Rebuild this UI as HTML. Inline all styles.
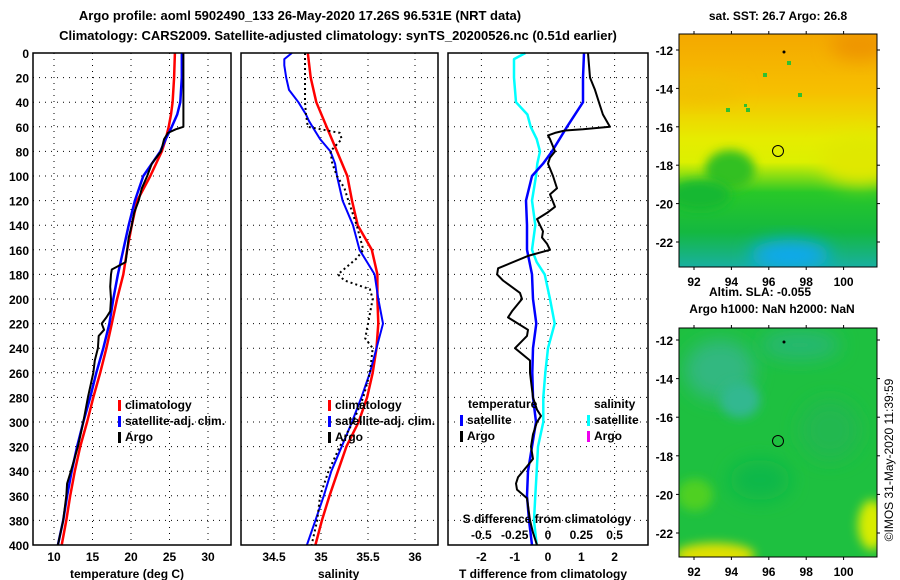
<!DOCTYPE html>
<html><head><meta charset="utf-8"><style>
html,body{margin:0;padding:0;background:#fff;}
svg{display:block;font-family:"Liberation Sans",sans-serif;font-weight:bold;}
</style></head><body>
<svg id="s" width="900" height="580" viewBox="0 0 900 580">
<defs>
<filter id="bl" x="-50%" y="-50%" width="200%" height="200%"><feGaussianBlur stdDeviation="9"/></filter>
<filter id="bl2" x="-50%" y="-50%" width="200%" height="200%"><feGaussianBlur stdDeviation="5"/></filter>
<clipPath id="c1"><rect x="679" y="34" width="198" height="233"/></clipPath>
<clipPath id="c2"><rect x="679" y="328" width="198" height="229"/></clipPath>
<linearGradient id="sst" x1="0" y1="0" x2="0" y2="1">
<stop offset="0" stop-color="#f4a800"/><stop offset="0.25" stop-color="#f6c000"/><stop offset="0.45" stop-color="#e6ec00"/><stop offset="0.55" stop-color="#dcf000"/><stop offset="0.68" stop-color="#28c828"/><stop offset="0.85" stop-color="#14b840"/><stop offset="1" stop-color="#18b0a0"/>
</linearGradient>
</defs>
<text x="300" y="20" text-anchor="middle" font-size="13">Argo profile: aoml 5902490_133 26-May-2020 17.26S 96.531E (NRT data)</text>
<text x="338" y="40" text-anchor="middle" font-size="13">Climatology: CARS2009. Satellite-adjusted climatology: synTS_20200526.nc (0.51d earlier)</text>
<g id="grid"></g>
<g id="lines"></g>
<g id="axes"></g>

<g font-size="12">
<rect x="118" y="400" width="3" height="11" fill="#f00"/><text x="125" y="409">climatology</text>
<rect x="118" y="416" width="3" height="11" fill="#00f"/><text x="125" y="425">satellite-adj. clim.</text>
<rect x="118" y="432" width="3" height="11" fill="#000"/><text x="125" y="441">Argo</text>
</g>
<g font-size="12">
<rect x="328" y="400" width="3" height="11" fill="#f00"/><text x="335" y="409">climatology</text>
<rect x="328" y="416" width="3" height="11" fill="#00f"/><text x="335" y="425">satellite-adj. clim.</text>
<rect x="328" y="432" width="3" height="11" fill="#000"/><text x="335" y="441">Argo</text>
</g>
<g font-size="12">
<text x="468" y="408">temperature</text>
<rect x="460" y="415" width="3" height="11" fill="#00f"/><text x="467" y="424">satellite</text>
<rect x="460" y="431" width="3" height="11" fill="#000"/><text x="467" y="440">Argo</text>
<text x="594" y="408">salinity</text>
<rect x="587" y="415" width="3" height="11" fill="#0ff"/><text x="594" y="424">satellite</text>
<rect x="587" y="431" width="3" height="11" fill="#e0e"/><text x="594" y="440">Argo</text>
</g>
<text x="547" y="523" text-anchor="middle" font-size="12">S difference from climatology</text>
<text x="70" y="578" font-size="12">temperature (deg C)</text>
<text x="318" y="578" font-size="12">salinity</text>
<text x="459" y="578" font-size="12">T difference from climatology</text>

<text x="778" y="20" text-anchor="middle" font-size="12">sat. SST: 26.7 Argo: 26.8</text>
<g clip-path="url(#c1)">
<rect x="679" y="34" width="198" height="233" fill="url(#sst)"/>
<ellipse cx="860" cy="45" rx="30" ry="15" fill="#ee9400" filter="url(#bl)"/>
<ellipse cx="700" cy="90" rx="40" ry="12" fill="#f0c000" filter="url(#bl)"/>
<ellipse cx="860" cy="160" rx="40" ry="25" fill="#e0e800" filter="url(#bl)"/>
<ellipse cx="790" cy="255" rx="40" ry="15" fill="#10a8f0" filter="url(#bl)"/>
<ellipse cx="730" cy="170" rx="25" ry="20" fill="#30c020" filter="url(#bl2)"/>
<ellipse cx="700" cy="195" rx="30" ry="15" fill="#18b830" filter="url(#bl2)"/>
<rect x="763" y="73" width="4" height="4" fill="#30c030"/><rect x="787" y="61" width="4" height="4" fill="#30c030"/>
<rect x="798" y="93" width="4" height="4" fill="#30c030"/><rect x="746" y="108" width="4" height="4" fill="#30c030"/>
<rect x="726" y="108" width="4" height="4" fill="#30c030"/><rect x="744" y="104" width="3" height="3" fill="#30c030"/>
<circle cx="784" cy="52" r="1.5" fill="#000"/>
<circle cx="778" cy="151" r="5.5" fill="none" stroke="#000" stroke-width="1"/>
</g>
<rect x="679" y="34" width="198" height="233" fill="none" stroke="#000"/>
<text x="760" y="296" text-anchor="middle" font-size="12">Altim. SLA: -0.055</text>
<text x="772" y="313" text-anchor="middle" font-size="12">Argo h1000: NaN h2000: NaN</text>

<g clip-path="url(#c2)">
<rect x="679" y="328" width="198" height="229" fill="#1ec040"/>
<ellipse cx="720" cy="370" rx="35" ry="30" fill="#30b880" filter="url(#bl)"/>
<ellipse cx="740" cy="400" rx="20" ry="18" fill="#30b890" filter="url(#bl2)"/>
<ellipse cx="800" cy="345" rx="40" ry="15" fill="#28b870" filter="url(#bl)"/>
<ellipse cx="830" cy="430" rx="30" ry="30" fill="#20b850" filter="url(#bl)"/>
<ellipse cx="695" cy="495" rx="18" ry="16" fill="#50d020" filter="url(#bl2)"/>
<ellipse cx="715" cy="555" rx="40" ry="12" fill="#e0e000" filter="url(#bl2)"/>
<ellipse cx="872" cy="525" rx="14" ry="25" fill="#d8ec00" filter="url(#bl2)"/>
<ellipse cx="760" cy="480" rx="30" ry="20" fill="#10b848" filter="url(#bl)"/>
<circle cx="784" cy="342" r="1.5" fill="#000"/>
<circle cx="778" cy="441" r="5.5" fill="none" stroke="#000" stroke-width="1"/>
</g>
<rect x="679" y="328" width="198" height="229" fill="none" stroke="#000"/>
<text transform="translate(893,460) rotate(-90)" text-anchor="middle" font-size="12" font-weight="normal">©IMOS 31-May-2020 11:39:59</text>
</svg>
<script>
const tClimDepth=[0,20,40,50,60,70,80,100,120,140,160,180,200,220,240,260,280,300,320,340,360,380,400];
const tClim=[25.7,25.6,25.4,25.2,24.9,24.5,24.0,22.5,20.8,20.1,19.5,19.0,18.2,17.5,16.8,16.0,15.1,14.3,13.4,12.7,12.1,11.6,11.0];
const tSatDepth=[0,20,40,50,60,70,80,90,100,120,140,160,180,200,220,240,260,280,300,320,340,360,380,400];
const tSat=[26.6,26.6,26.4,26.0,25.3,24.5,23.8,22.7,21.6,20.5,19.7,19.0,18.3,17.7,17.2,16.4,15.5,14.7,13.8,13.0,12.3,11.7,11.2,10.5];
const tArgoDepth=[0,60,62,65,70,80,90,100,110,120,130,140,150,160,170,176,180,190,200,210,215,220,225,230,240,250,260,280,300,320,340,350,360,380,400];
const tArgo=[26.8,26.8,25.8,24.8,24.3,23.9,22.7,22.1,21.4,21.0,20.4,20.1,19.7,19.5,19.3,17.5,17.4,17.3,17.4,17.3,16.8,16.2,16.5,15.8,15.7,15.3,15.1,14.4,13.8,13.1,12.2,11.7,11.6,11.2,10.5];
const sClimDepth=[0,20,40,60,80,100,120,140,160,180,200,220,240,260,280,300,320,340,360,380,400];
const sClim=[34.86,34.89,34.95,35.06,35.17,35.28,35.33,35.39,35.54,35.60,35.60,35.61,35.59,35.55,35.49,35.40,35.27,35.18,35.09,35.01,34.94];
const sSatDepth=[0,5,10,20,30,40,50,55,60,70,80,90,100,120,140,160,170,180,200,220,240,260,280,300,320,340,360,380,400];
const sSat=[34.69,34.61,34.61,34.63,34.66,34.76,34.84,34.87,34.91,34.99,35.10,35.15,35.17,35.23,35.34,35.41,35.49,35.57,35.61,35.66,35.59,35.52,35.43,35.33,35.22,35.11,35.03,34.94,34.85];
const sArgoDepth=[0,20,40,50,60,65,70,80,90,100,110,120,140,160,167,180,185,192,200,220,232,240,260,280,300,320,340,360,380,400];
const sArgo=[34.83,34.83,34.83,34.84,34.86,35.2,35.22,35.10,35.12,35.17,35.25,35.29,35.38,35.45,35.38,35.18,35.25,35.52,35.55,35.50,35.47,35.55,35.52,35.45,35.34,35.20,35.08,34.99,34.96,34.90];
const dTSatDepth=[0,20,40,60,80,90,100,120,140,160,180,200,220,240,260,280,300,320,340,360,380,400];
const dTSat=[1.08,1.05,1.05,0.57,0.12,-0.15,-0.48,-0.66,-0.63,-0.63,-0.48,-0.45,-0.35,-0.45,-0.47,-0.45,-0.36,-0.48,-0.6,-0.63,-0.57,-0.48];
const dSSatDepth=[0,5,20,40,50,60,70,80,90,100,120,140,160,170,180,200,220,240,260,280,300,320,340,360,380,400];
const dSSat=[-0.17,-0.255,-0.255,-0.24,-0.155,-0.13,-0.085,-0.06,-0.08,-0.09,-0.12,-0.095,-0.12,-0.085,-0.025,0.015,0.05,0.0,-0.02,-0.035,-0.035,-0.075,-0.085,-0.095,-0.105,-0.085];
const dTArgoDepth=[0,20,30,40,50,60,62,63,65,67,70,80,85,90,100,110,115,125,130,135,145,150,155,160,165,175,180,185,195,200,210,215,225,230,240,250,260,280,290,295,300,310,320,330,335,345,350,355,362,380,390,400];
const dTArgo=[1.2,1.26,1.41,1.53,1.65,1.86,1.05,0.51,0.21,0.0,0.06,0.21,0.06,0.0,0.15,0.27,0.06,0.21,-0.03,-0.33,-0.15,-0.18,-0.03,0.06,-0.6,-1.5,-1.53,-1.35,-0.84,-0.78,-1.08,-1.2,-0.6,-0.63,-0.99,-0.54,-0.54,-0.45,-0.33,-0.21,-0.33,-0.45,-0.51,-0.45,-0.6,-0.9,-0.96,-0.93,-0.63,-0.54,-0.45,-0.33];
const depthTicks=[0,20,40,60,80,100,120,140,160,180,200,220,240,260,280,300,320,340,360,380,400];
const tTicks=[10,15,20,25,30];
const sTicks=[34.5,35,35.5,36];
const dTTicks=[-2,-1,0,1,2];
const dSTicks=[-0.5,-0.25,0,0.25,0.5];
const latTicks=[-12,-14,-16,-18,-20,-22];
const lonTicks=[92,94,96,98,100];

const NS='http://www.w3.org/2000/svg';
const yD=d=>53+d*1.23;
const xT=t=>54+(t-10)*7.7;
const xS=s=>321+(s-35)*94;
const xDT=t=>548+t*33.3;
const xDS=s=>548+s*133.2;
const xLon=l=>694+(l-92)*18.7;
const yLat1=l=>50+(-12-l)*19.2;
const yLat2=l=>340+(-12-l)*19.3;
const panels=[[33,231],[241,438],[448,648]];
function mk(tag,attrs,parent){const e=document.createElementNS(NS,tag);for(const k in attrs)e.setAttribute(k,attrs[k]);parent.appendChild(e);return e;}
const G=document.getElementById('grid'),L=document.getElementById('lines'),A=document.getElementById('axes');

panels.forEach(([x0,x1])=>{depthTicks.forEach(d=>{if(d>0&&d<400){const ln=mk('line',{x1:x0,x2:x1,y1:yD(d),y2:yD(d),stroke:'#000','stroke-width':1,'stroke-dasharray':'1,5'},G);

}});});
function vgrid(vals,fx){vals.forEach(v=>{const ln=mk('line',{x1:fx(v),x2:fx(v),y1:yD(0),y2:yD(400),stroke:'#000','stroke-width':1,'stroke-dasharray':'1,5'},G);

});}
vgrid(tTicks,xT);vgrid(sTicks,xS);vgrid([-0.5,0,0.5],xDS);

panels.forEach(([x0,x1])=>{const r=mk('rect',{x:x0,y:yD(0),width:x1-x0,height:yD(400)-yD(0),fill:'none',stroke:'#000','stroke-width':1.5},A);

});
depthTicks.forEach(d=>{const t=mk('text',{x:29,y:yD(d)+5,'text-anchor':'end','font-size':12},A);t.textContent=d;

});
function xlabels(vals,fx,y){vals.forEach(v=>{const t=mk('text',{x:fx(v),y:y,'text-anchor':'middle','font-size':12},A);t.textContent=v;

});}
xlabels(tTicks,xT,561);xlabels(sTicks,xS,561);xlabels(dTTicks,xDT,561);xlabels(dSTicks,xDS,539);

function line(depths,vals,fx,color,w,name,dash){const pts=depths.map((d,i)=>fx(vals[i]).toFixed(1)+','+yD(d).toFixed(1)).join(' ');
const p=mk('polyline',{points:pts,fill:'none',stroke:color,'stroke-width':w,'stroke-linejoin':'round'},L);if(dash)p.setAttribute('stroke-dasharray',dash);

}
line(tClimDepth,tClim,xT,'#f00',2.5,'temperature-climatology-line');
line(tSatDepth,tSat,xT,'#00f',2.5,'temperature-satellite-line');
line(tArgoDepth,tArgo,xT,'#000',2,'temperature-argo-line');
line(sClimDepth,sClim,xS,'#f00',2.5,'salinity-climatology-line');
line(sSatDepth,sSat,xS,'#00f',2,'salinity-satellite-line');
line(sArgoDepth,sArgo,xS,'#000',2,'salinity-argo-line','2,3');
line(dSSatDepth,dSSat,xDS,'#0ff',2.5,'salinity-difference-satellite-line');
line(dTSatDepth,dTSat,xDT,'#00f',2.5,'temperature-difference-satellite-line');
line(dTArgoDepth,dTArgo,xDT,'#000',2,'temperature-difference-argo-line');

[[yLat1,34,267],[yLat2,328,557]].forEach(([fy,top,bot])=>{
latTicks.forEach(l=>{const y=fy(l);if(y<top||y>bot)return;
const t=mk('text',{x:673,y:y+5,'text-anchor':'end','font-size':12},A);t.textContent=l;


mk('line',{x1:874,x2:880,y1:y,y2:y,stroke:'#000'},A);mk('line',{x1:676,x2:682,y1:y,y2:y,stroke:'#000'},A);});
lonTicks.forEach(l=>{const x=xLon(l);mk('line',{x1:x,x2:x,y1:top-3,y2:top+3,stroke:'#000'},A);mk('line',{x1:x,x2:x,y1:bot-3,y2:bot+3,stroke:'#000'},A);
const t=mk('text',{x:x,y:bot+19,'text-anchor':'middle','font-size':12},A);t.textContent=l;

});
});
</script>
</body></html>
